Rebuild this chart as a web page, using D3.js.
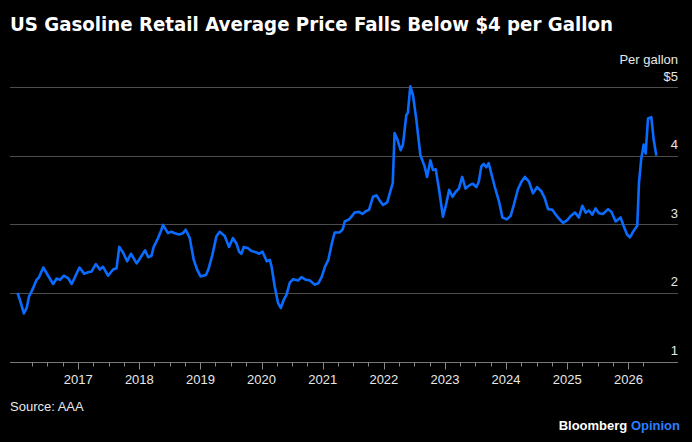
<!DOCTYPE html>
<html>
<head>
<meta charset="utf-8">
<script src="https://cdn.jsdelivr.net/npm/d3@7"></script>
<style>
  html, body { margin: 0; padding: 0; background: #000; }
  svg { display: block; }
</style>
</head>
<body>
<svg id="chart" width="692" height="442"></svg>
<script>
const title = "US Gasoline Retail Average Price Falls Below $4 per Gallon"
const unitLabel = "Per gallon"
const sourceLabel = "Source: AAA"
const yTicks = [1, 2, 3, 4, 5]
const yTickLabels = ["1", "2", "3", "4", "$5"]

// AAA national average (USD per gallon)
const dates = [
  "2016-01-04", "2016-01-18", "2016-02-11", "2016-02-28", "2016-03-13", "2016-04-03", "2016-04-27", "2016-05-12",
  "2016-06-06", "2016-07-05", "2016-08-04", "2016-08-25", "2016-09-14", "2016-10-07", "2016-11-03", "2016-11-23",
  "2016-12-18", "2017-01-08", "2017-02-05", "2017-03-01", "2017-03-21", "2017-04-16", "2017-05-10", "2017-05-29",
  "2017-06-28", "2017-07-28", "2017-08-18", "2017-09-03", "2017-09-27", "2017-10-20", "2017-11-12", "2017-12-16",
  "2018-01-09", "2018-02-04", "2018-02-23", "2018-03-14", "2018-03-28", "2018-04-23", "2018-05-13", "2018-05-22",
  "2018-06-21", "2018-07-11", "2018-08-01", "2018-08-26", "2018-09-19", "2018-10-05", "2018-10-29", "2018-11-22",
  "2018-12-12", "2019-01-02", "2019-02-03", "2019-02-17", "2019-03-13", "2019-04-06", "2019-04-26", "2019-05-26",
  "2019-06-21", "2019-07-14", "2019-08-04", "2019-08-20", "2019-09-03", "2019-09-17", "2019-10-12", "2019-11-02",
  "2019-12-02", "2019-12-17", "2020-01-07", "2020-02-01", "2020-02-20", "2020-03-01", "2020-03-20", "2020-04-09",
  "2020-04-25", "2020-05-13", "2020-05-29", "2020-06-18", "2020-07-08", "2020-08-07", "2020-08-27", "2020-09-22",
  "2020-10-16", "2020-11-15", "2020-12-05", "2020-12-25", "2021-01-14", "2021-02-03", "2021-02-24", "2021-03-13",
  "2021-04-12", "2021-05-01", "2021-05-12", "2021-06-07", "2021-06-21", "2021-07-10", "2021-08-05", "2021-08-26",
  "2021-09-15", "2021-10-04", "2021-10-28", "2021-11-18", "2021-12-08", "2021-12-27", "2022-01-21", "2022-02-11",
  "2022-02-23", "2022-03-06", "2022-03-22", "2022-04-11", "2022-04-25", "2022-05-15", "2022-05-24", "2022-06-08",
  "2022-06-24", "2022-07-14", "2022-08-07", "2022-09-02", "2022-09-16", "2022-10-06", "2022-10-21", "2022-11-07",
  "2022-11-27", "2022-12-20", "2023-01-06", "2023-01-26", "2023-02-15", "2023-03-05", "2023-03-25", "2023-04-14",
  "2023-05-04", "2023-05-28", "2023-06-17", "2023-07-07", "2023-07-22", "2023-08-06", "2023-08-20", "2023-09-05",
  "2023-09-19", "2023-10-05", "2023-10-25", "2023-11-20", "2023-12-10", "2024-01-04", "2024-01-28", "2024-02-16",
  "2024-03-12", "2024-04-02", "2024-04-22", "2024-05-17", "2024-06-10", "2024-07-04", "2024-07-30", "2024-08-19",
  "2024-09-08", "2024-10-04", "2024-10-24", "2024-11-13", "2024-12-07", "2025-01-01", "2025-01-21", "2025-02-16",
  "2025-03-11", "2025-04-01", "2025-04-21", "2025-05-10", "2025-05-30", "2025-06-19", "2025-07-09", "2025-08-02",
  "2025-09-02", "2025-09-22", "2025-10-17", "2025-11-15", "2025-12-04", "2025-12-24", "2026-01-10", "2026-01-29",
  "2026-02-23", "2026-03-05", "2026-03-19", "2026-04-02", "2026-04-14", "2026-04-28", "2026-05-18", "2026-06-01",
  "2026-06-17"
]
const prices = [
  2.00, 1.90, 1.70, 1.78, 1.95, 2.05, 2.19, 2.23,
  2.37, 2.25, 2.13, 2.21, 2.19, 2.25, 2.21, 2.13,
  2.26, 2.37, 2.28, 2.30, 2.31, 2.42, 2.34, 2.38,
  2.25, 2.34, 2.36, 2.67, 2.58, 2.46, 2.57, 2.43,
  2.52, 2.62, 2.52, 2.54, 2.67, 2.80, 2.92, 2.99,
  2.87, 2.89, 2.87, 2.85, 2.87, 2.92, 2.80, 2.48,
  2.34, 2.24, 2.26, 2.34, 2.55, 2.82, 2.89, 2.83,
  2.67, 2.80, 2.72, 2.60, 2.57, 2.67, 2.65, 2.61,
  2.59, 2.57, 2.60, 2.46, 2.48, 2.38, 2.09, 1.85,
  1.78, 1.90, 1.97, 2.15, 2.20, 2.18, 2.23, 2.19,
  2.18, 2.12, 2.14, 2.23, 2.38, 2.48, 2.72, 2.88,
  2.88, 2.93, 3.04, 3.07, 3.11, 3.17, 3.18, 3.15,
  3.19, 3.21, 3.40, 3.42, 3.34, 3.28, 3.32, 3.50,
  3.60, 4.33, 4.24, 4.08, 4.16, 4.59, 4.62, 5.01,
  4.88, 4.52, 4.01, 3.84, 3.69, 3.93, 3.79, 3.80,
  3.50, 3.11, 3.27, 3.50, 3.40, 3.47, 3.52, 3.69,
  3.52, 3.57, 3.59, 3.54, 3.62, 3.84, 3.88, 3.83,
  3.89, 3.74, 3.55, 3.33, 3.10, 3.07, 3.12, 3.28,
  3.51, 3.62, 3.69, 3.62, 3.45, 3.54, 3.48, 3.38,
  3.22, 3.21, 3.14, 3.08, 3.02, 3.06, 3.12, 3.17,
  3.10, 3.27, 3.17, 3.20, 3.14, 3.23, 3.16, 3.15,
  3.22, 3.18, 3.04, 3.10, 2.97, 2.85, 2.81, 2.89,
  2.98, 3.60, 3.96, 4.16, 4.03, 4.54, 4.56, 4.23,
  4.00
]

const width = 692
const plotLeft = 10
const plotRight = 678
const yTop = 87
const yBottom = 361.5
const parse = d3.timeParse("%Y-%m-%d")
const series = dates.map((d, i) => ({ date: parse(d), value: prices[i] }))

// Jan 2016 sits at x=17 and Jan 2026 at x=628.4; extend to the plot edges
const anchor = d3.scaleTime()
  .domain([new Date(2016, 0, 1), new Date(2026, 0, 1)])
  .range([17, 628.4])
const x = d3.scaleTime()
  .domain([anchor.invert(plotLeft), anchor.invert(plotRight)])
  .range([plotLeft, plotRight])
const y = d3.scaleLinear().domain([1, 5]).range([yBottom, yTop])

const svg = d3.select("#chart")
svg.append("rect").attr("width", width).attr("height", 442).attr("fill", "#000")

svg.append("text")
  .attr("x", 10).attr("y", 31)
  .attr("fill", "#fff")
  .style("font-family", "'DejaVu Sans', sans-serif")
  .style("font-weight", "bold")
  .style("font-size", "19px")
  .attr("textLength", 603)
  .attr("lengthAdjust", "spacingAndGlyphs")
  .text(title)

const labelFont = "'Liberation Sans', Arial, sans-serif"

// gridlines
svg.append("g")
  .selectAll("line")
  .data(yTicks.filter(d => d !== 1))
  .join("line")
  .attr("x1", plotLeft).attr("x2", plotRight)
  .attr("y1", d => Math.round(y(d)) + 0.5).attr("y2", d => Math.round(y(d)) + 0.5)
  .attr("stroke", "#4d4d4d")
  .attr("stroke-width", 1.2)

// y labels, sitting above the gridlines at the right edge
svg.append("g")
  .selectAll("text")
  .data(yTicks)
  .join("text")
  .attr("x", plotRight).attr("y", d => y(d) - 6.5)
  .attr("text-anchor", "end")
  .attr("fill", "#e8e8e8")
  .style("font-family", labelFont)
  .style("font-size", "13px")
  .text((d, i) => yTickLabels[i])

svg.append("text")
  .attr("x", plotRight).attr("y", 64)
  .attr("text-anchor", "end")
  .attr("fill", "#e8e8e8")
  .style("font-family", labelFont)
  .style("font-size", "13px")
  .text(unitLabel)

// x axis: quarterly minor ticks over the data span, labelled years
const xAxisG = svg.append("g").attr("transform", `translate(0, ${Math.round(yBottom) + 0.5})`)
xAxisG.append("line")
  .attr("x1", plotLeft).attr("x2", plotRight)
  .attr("stroke", "#777").attr("stroke-width", 1.2)

const span = d3.extent(series, d => d.date)
const quarters = d3.timeMonth.every(3).range(span[0], span[1])
xAxisG.selectAll("line.tick")
  .data(quarters)
  .join("line")
  .attr("class", "tick")
  .attr("x1", d => Math.round(x(d)) + 0.5).attr("x2", d => Math.round(x(d)) + 0.5)
  .attr("y1", 0)
  .attr("y2", d => d.getMonth() === 0 ? 7 : 4)
  .attr("stroke", "#888")

const years = quarters.filter(d => d.getMonth() === 0)
xAxisG.selectAll("text")
  .data(years)
  .join("text")
  .attr("x", d => x(d))
  .attr("y", 21)
  .attr("text-anchor", "middle")
  .attr("fill", "#e8e8e8")
  .style("font-family", labelFont)
  .style("font-size", "13px")
  .text(d3.timeFormat("%Y"))

// price line
const line = d3.line()
  .x(d => x(d.date))
  .y(d => y(d.value))

svg.append("path")
  .datum(series)
  .attr("d", line)
  .attr("fill", "none")
  .attr("stroke", "#0a6cff")
  .attr("stroke-width", 2.6)
  .attr("stroke-linejoin", "round")

// footer
svg.append("text")
  .attr("x", 10).attr("y", 411)
  .attr("fill", "#e8e8e8")
  .style("font-family", labelFont)
  .style("font-size", "13px")
  .text(sourceLabel)

const brand = svg.append("text")
  .attr("x", 680).attr("y", 430)
  .attr("text-anchor", "end")
  .style("font-family", labelFont)
  .style("font-size", "13px")
  .style("font-weight", "bold")
brand.append("tspan").attr("fill", "#fff").text("Bloomberg ")
brand.append("tspan").attr("fill", "#2b7fff").text("Opinion")
</script>
</body>
</html>
